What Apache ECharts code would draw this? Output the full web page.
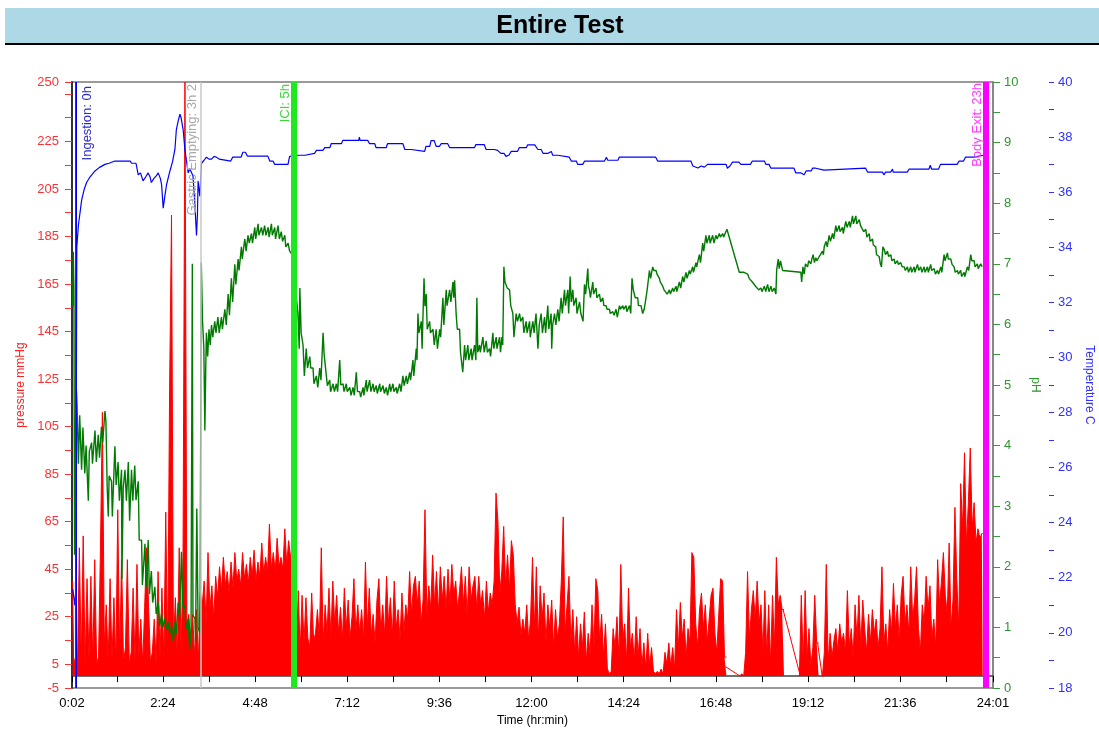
<!DOCTYPE html>
<html>
<head>
<meta charset="utf-8">
<script src="https://cdn.jsdelivr.net/npm/echarts@6/dist/echarts.min.js"></script>
<style>
html,body{margin:0;padding:0;background:#fff;}
#chart{width:1099px;height:733px;}
</style>
</head>
<body>
<div id="chart"></div>
<script>
// ---------------- DATA ----------------
const chartTitle = 'Entire Test';
// x axis (minutes since start)
const xMin = 2, xMax = 1441;
const xTickMinutes = [2,72,144,216,288,360,432,504,576,648,720,792,864,936,1008,1080,1152,1224,1296,1368,1441];
const xLabelMinutes = [2,144,288,432,576,720,864,1008,1152,1296,1441];
// pressure axis
const pressureTicks = [-5,5,15,25,35,45,55,65,75,85,95,105,115,125,135,145,155,165,175,185,195,205,215,225,235,245,250];
const pressureLabels = [-5,5,25,45,65,85,105,125,145,165,185,205,225,250];
// pH axis
const pHTicks = [0,0.5,1,1.5,2,2.5,3,3.5,4,4.5,5,5.5,6,6.5,7,7.5,8,8.5,9,9.5,10];
const pHLabels = [0,1,2,3,4,5,6,7,8,9,10];
// temperature axis
const tempTicks = [18,19,20,21,22,23,24,25,26,27,28,29,30,31,32,33,34,35,36,37,38,39,40];
const tempLabels = [18,20,22,24,26,28,30,32,34,36,38,40];

// event markers
const markerNames = ['', 'Ingestion: 0h', 'Gastric Emptying: 3h 2', 'ICI: 5h', 'Body Exit: 23h'];
const markerMinutes = [6.7, 9.3, 203, 349, 1429];

// pressure (mmHg), one value every 3 minutes starting at minute 3 (null = no recording)
const pressureStartMin = 3, pressureStepMin = 3;
const pressureValues = [
40,5,8,4,54,6,59,5,41,7,42,6,49,5,8,54,111,12,30,6,
41,7,33,5,70,8,49,6,12,49,5,10,37,6,47,8,24,5,29,54,
31,6,10,24,5,44,8,37,6,69,9,121,194,12,33,7,54,10,52,250,
20,26,14,26,8,28,6,35,30,40,22,52,28,38,24,42,33,46,36,50,
38,44,35,48,37,52,40,45,38,52,41,47,39,50,42,53,40,48,42,56,
43,50,44,64,45,52,44,58,46,50,45,62,47,57,50,48,20,8,36,10,
34,14,33,16,12,35,15,18,28,16,54,14,30,18,37,16,40,22,34,18,
29,15,37,20,32,16,25,41,18,30,18,28,15,48,20,37,17,26,14,32,
41,18,30,17,42,22,33,16,40,20,28,15,35,18,30,24,44,26,38,42,
30,40,22,32,70,25,38,28,51,30,44,26,46,32,42,28,45,30,47,34,
40,28,36,46,30,42,25,46,32,38,42,28,42,30,36,24,40,27,35,30,
40,77,65,35,44,63,38,51,36,57,51,30,22,29,17,24,18,30,15,24,
50,20,46,15,38,24,35,14,30,20,32,12,28,16,22,40,67,18,30,42,
14,28,10,25,8,22,12,27,6,18,9,30,12,41,36,14,26,8,22,3,
1,2,20,12,25,8,47,15,22,6,37,12,18,6,25,8,20,4,14,3,
18,4,12,2,1,2,1,3,1,10,5,14,4,12,3,28,12,31,16,24,
8,20,14,52,50,22,12,28,35,20,30,14,24,34,37,18,10,26,41,40,
8,null,null,null,null,null,null,null,0,1,0,10,44,15,28,36,24,40,22,30,
10,36,8,30,5,34,12,50,30,34,28,null,null,null,null,null,null,null,null,0,
34,5,36,8,20,4,12,34,14,null,null,0,10,47,6,18,8,15,20,10,
22,14,18,10,36,12,20,8,30,16,34,12,32,20,10,26,14,28,18,24,
12,20,46,14,22,10,28,18,39,20,30,14,34,42,22,30,18,46,24,32,
46,20,10,30,22,42,28,38,16,24,12,49,30,40,52,34,26,56,20,32,
71,40,20,81,62,94,55,73,96,62,73,56,62,58,60
];
// straight connector lines drawn across the recording gaps [minute, mmHg]
const pressureGapSegments = [
  [[1023,4],[1046,0],[1047,0]],
  [[1113,28],[1140,0]],
  [[1167,14],[1174,0],[1176,0]]
];

// pH readings [minute, pH]
const pHData = [
[3,6.3],[4,7.2],[5,6.6],[6,2.2],[7.5,4.4],[9,4.9],[10,4.63],[12,3.7],[14,4.5],[17,3.6],[19,4.3],[22,3.54],[24,4.0],[27.5,3.09],[29,3.9],[32.6,4.05],[34,3.7],[37.9,4.25],[40,3.73],[43,4.18],[45,3.8],[48,4.31],[50,4.05],[53.5,4.57],[55,4.4],[57,3.3],[58.7,2.83],[60,3.5],[63.8,3.41],[65,2.83],[69,3.99],[71,3.35],[74,3.73],[76,3.09],[79.4,3.6],[80,1.8],[82,3.3],[84.8,3.6],[87,3.09],[90,3.73],[92,2.76],[95,3.6],[97,3.09],[100,3.67],[102,3.1],[105.5,3.41],[107,2.44],[110.7,2.44],[112,1.7],[116,2.38],[118,1.67],[121,2.44],[123,1.55],[126,1.93],[128,1.41],[131.5,1.67],[133.5,1.22],[136.7,1.41],[139,1.02],[142,1.22],[144,1.0],[147,1.15],[150,0.96],[152,1.09],[155,0.89],[157.5,1.02],[160,0.76],[163,1.09],[165,0.89],[168,1.41],[170,1.15],[173,2.25],[175,1.35],[178.4,1.35],[180,0.96],[183.5,1.15],[186,0.63],[188,1.0],[190,7.0],[191,1.2],[194,1.15],[195,0.76],[197,2.96],[199,1.0],[202,0.9],[204,7.02],[206,6.05],[208,5.6],[209.6,4.25],[211,5.3],[212,5.86],[214,5.47],[216,5.92],[218,5.66],[220,5.99],[222,5.79],[225,6.05],[227,5.86],[230,6.12],[232,5.86],[235.5,6.12],[237,5.92],[240.8,6.25],[243,5.99],[246,6.5],[248,6.15],[251,6.76],[253,6.37],[256.4,6.99],[258,6.66],[261.6,7.08],[263,6.89],[266.7,7.28],[268,7.08],[272,7.41],[274,7.21],[277,7.47],[279,7.34],[282.4,7.5],[284,7.34],[287.6,7.6],[289,7.41],[292.8,7.66],[294,7.47],[298,7.6],[300,7.47],[303,7.63],[305,7.47],[308.4,7.6],[310,7.44],[313.6,7.66],[315,7.47],[318.8,7.6],[320,7.41],[324,7.63],[326,7.41],[329,7.53],[331,7.37],[334.5,7.47],[336,7.28],[339.6,7.34],[342,7.21],[346,7.15],
[355,6.18],[357,5.6],[358,6.6],[360,5.86],[363,5.66],[365,5.15],[368,5.6],[370,5.28],[373.5,5.47],[375,5.28],[378.6,5.28],[380,5.02],[383.8,5.15],[386,4.96],[389,5.28],[391,5.08],[394.3,5.86],[396,5.5],[399.4,5.15],[401,4.99],[404.7,5.08],[406,4.89],[409.9,5.02],[412,4.89],[415,5.02],[417,4.89],[420.3,5.41],[422,5.0],[425.5,5.02],[427,4.89],[430.6,5.02],[432,4.89],[436,4.96],[438,4.83],[441,4.96],[443,4.83],[446.2,5.21],[448,4.89],[451.5,4.89],[453,4.8],[456.7,4.96],[458,4.83],[461.8,5.08],[463,4.89],[467,5.08],[469,4.89],[472.3,5.02],[474,4.89],[477.4,4.99],[479,4.86],[482.8,5.02],[484,4.89],[488,4.99],[490,4.86],[493,4.96],[495,4.83],[498.4,5.02],[500,4.89],[503.5,5.02],[505,4.89],[508.7,4.96],[510,4.86],[514,5.02],[516,4.89],[519,5.15],[521,4.99],[524.3,5.15],[526,5.02],[529.6,5.21],[531,5.08],[534.7,5.41],[536,5.15],[539.9,5.6],[541,5.41],[542.5,6.18],[544,5.86],[547.7,6.05],[549,5.6],[552,6.76],[553.5,6.3],[555.5,6.5],[557,5.92],[560.8,6.05],[562,5.86],[566,5.92],[568,5.66],[571,5.92],[573,5.6],[576.4,5.92],[578,5.79],[581.5,6.44],[583,5.99],[586.7,6.57],[588,6.31],[592,6.57],[594,6.37],[597.2,6.7],[598.5,6.44],[599.8,6.73],[602.3,6.15],[604,5.92],[607.6,5.92],[609,5.54],[611,5.54],[612.5,5.21],[615.4,5.66],[617,5.41],[620.5,5.66],[622,5.41],[625.7,5.6],[627,5.41],[631,5.66],[633,5.41],[634.6,6.44],[636,5.54],[638.8,5.66],[640,5.54],[644,5.79],[646,5.54],[649.2,5.73],[651,5.54],[654.4,5.6],[656,5.47],[659.6,5.86],[661,5.6],[664.8,5.79],[666,5.6],[670,5.79],[671.5,5.54],[673.7,5.79],[675,5.66],[676.8,6.95],[678.5,6.7],[680.4,6.7],[682,6.6],[685.7,6.57],[687.5,6.31],[690.8,6.18],[692.5,5.79],[696,6.18],[698,6.05],[701.3,6.18],[703,6.05],[706.4,6.12],[708,5.86],[711.6,6.05],[713,5.86],[716.9,6.05],[718,5.79],[722,6.05],[724,5.86],
[727,6.18],[730,5.6],[732,5.99],[735,6.18],[737,5.86],[740.3,6.12],[742,5.86],[745.4,6.31],[747,5.92],[750.6,6.18],[751.5,5.6],[753,5.99],[755.9,6.18],[758,5.99],[761,6.25],[763,6.05],[766.2,6.44],[768,6.18],[771.5,6.57],[773,6.31],[776.6,6.57],[778,6.18],[780.3,6.79],[782,6.37],[784.5,6.57],[786,6.31],[789.6,6.44],[791,6.18],[795,6.37],[797,6.18],[799,6.15],[800.5,6.05],[802.7,6.66],[804.5,6.5],[807.9,6.92],[809,6.63],[810.5,6.57],[812,6.44],[815.7,6.7],[817,6.5],[820.8,6.6],[822,6.44],[826.1,6.5],[828,6.37],[831.3,6.44],[833,6.31],[836.4,6.31],[838,6.25],[841.7,6.25],[843,6.18],[846.9,6.21],[849,6.15],[852,6.25],[854,6.12],[857.4,6.31],[859,6.25],[862.5,6.31],[864,6.25],[867.7,6.31],[869,6.21],[873,6.31],[875,6.18],[877,6.76],[879,6.57],[880.7,6.57],[882,6.44],[885.9,6.44],[887,6.31],[891,6.31],[893.7,6.18],[896,6.25],[898.9,6.44],[901,6.6],[904.2,6.89],[906,6.76],[909.3,6.95],[911,6.89],[914.5,6.89],[916,6.83],[919.8,6.76],[921,6.7],[925,6.63],[927,6.57],[930,6.57],[932,6.5],[935.4,6.57],[937,6.5],[940.5,6.6],[942,6.54],[945.7,6.63],[947,6.54],[951,6.7],[953,6.6],[956.1,6.79],[958,6.7],[961.3,6.86],[963,6.76],[966.6,6.89],[968,6.83],[971.8,6.95],[973,6.86],[976.9,7.02],[978,6.95],[982.2,7.15],[984,7.02],[987.4,7.34],[989,7.21],[992.5,7.47],[994,7.34],[997.8,7.47],[999,7.34],[1003,7.47],[1005,7.34],[1008,7.47],[1010,7.41],[1013.4,7.5],[1015,7.44],[1018.6,7.5],[1020,7.44],[1025.3,7.57],[1044.6,6.86],[1047,6.83],[1052,6.86],[1057.6,6.83],[1060,6.76],[1062.7,6.79],[1065,6.7],[1068,6.73],[1070,6.63],[1073,6.66],[1075,6.57],[1078.4,6.6],[1080,6.54],
[1083.7,6.63],[1086,6.54],[1088.8,6.66],[1091,6.54],[1094,6.63],[1096,6.54],[1099.2,6.6],[1101.8,6.5],[1103,6.9],[1105.5,7.08],[1107,6.92],[1109,7.05],[1111,6.95],[1112.2,6.89],[1140.8,6.86],[1142,6.7],[1144,6.95],[1146,6.83],[1148,7.0],[1151.3,6.95],[1153,7.05],[1156.4,7.0],[1158,7.08],[1160,7.15],[1162,7.02],[1164.2,7.1],[1166,7.05],[1169.5,7.12],[1172,7.1],[1174.6,7.21],[1176,7.15],[1177.3,7.28],[1180,7.37],[1182,7.28],[1185,7.47],[1187,7.37],[1190.3,7.5],[1192,7.41],[1195.5,7.63],[1197,7.53],[1200.6,7.63],[1202,7.53],[1205.9,7.6],[1207,7.5],[1211,7.7],[1213,7.6],[1216.4,7.7],[1218,7.6],[1221.5,7.79],[1223,7.66],[1226.7,7.79],[1228,7.66],[1232,7.73],[1234,7.63],[1237.1,7.66],[1239,7.53],[1242.2,7.57],[1244,7.44],[1247.6,7.5],[1249,7.37],[1252.7,7.41],[1254,7.31],[1257.8,7.28],[1259,7.15],[1263.2,7.12],[1265,7.0],[1266.7,6.95],[1269,7.28],[1271,7.24],[1273,7.15],[1276,7.21],[1278,7.12],[1281.3,7.15],[1283,7.05],[1286.5,7.08],[1288,7.0],[1291.7,7.05],[1293,6.99],[1296.9,7.02],[1299,6.95],[1302.2,6.95],[1304,6.89],[1307.3,6.95],[1309,6.86],[1312.5,6.95],[1314,6.86],[1317.8,6.95],[1319,6.86],[1323,6.99],[1325,6.89],[1328,6.95],[1330,6.86],[1333.4,6.95],[1335,6.86],[1338.6,6.95],[1340,6.86],[1343.7,6.99],[1345,6.89],[1349,6.92],[1351,6.83],[1354.2,6.89],[1356,6.83],[1359.4,6.95],[1361,6.86],[1364.6,7.15],[1366,7.05],[1369.8,7.18],[1371,7.08],[1375,7.08],[1377,6.99],[1380.2,6.95],[1382,6.86],[1385.4,6.89],[1387,6.83],[1390.5,6.89],[1392,6.79],[1395.8,6.86],[1397,6.79],[1401,6.95],[1403,6.89],[1406.2,7.15],[1408,7.05],[1411.5,7.05],[1413,6.95],[1416.6,7.0],[1418,6.92],[1421.8,7.0],[1424,6.95]
];

// temperature readings [minute, deg C]
const tempData = [
[3,21.6],[5,21.3],[6.5,21.0],[8,21.5],[9,30.3],[9.5,34.0],[12,34.8],[17,35.7],[21,36.1],[24.8,36.35],[30,36.55],[37.9,36.77],[45,36.9],[53.5,37.01],[60,37.05],[69,37.13],[93,37.13],[95,37.05],[102,37.05],[105.5,36.63],[109,36.7],[113,36.41],[117,36.55],[121,36.7],[124,36.55],[126,36.35],[130,36.5],[134,36.6],[136.7,36.7],[140,36.5],[142,36.27],[144.5,35.42],[147,35.85],[149.7,36.27],[155,36.77],[159,37.1],[162.8,37.55],[165,38.26],[168,38.6],[170.6,38.83],[172.5,38.7],[175.7,38.26],[178.4,37.55],[183.5,36.7],[186,36.85],[188.7,36.91],[191,36.6],[194,35.56],[196.5,34.43],[198,35.2],[199,36.41],[201.8,35.85],[204.3,37.05],[208,37.15],[212,37.27],[216,37.2],[220,37.2],[224,37.3],[227.7,37.27],[232,37.2],[235,37.13],[250,37.13],[253,37.27],[266,37.27],[269,37.45],[273,37.45],[276,37.31],[308,37.31],[311,37.13],[316,37.13],[318.7,37.01],[339.5,37.01],[342,37.3],
[355,37.34],[366,37.34],[368,37.41],[381,37.41],[384,37.52],[394,37.52],[397,37.62],[405,37.62],[407,37.76],[423,37.76],[425,37.88],[450,37.88],[451,38.0],[452,37.88],[464,37.88],[467,37.76],[475,37.76],[477,37.62],[493,37.62],[495,37.76],[519,37.76],[522,37.55],[532,37.55],[535,37.48],[553,37.48],[555,37.66],[561,37.66],[563,37.87],[568,37.87],[571,37.66],[576,37.66],[579,37.76],[589,37.76],[592,37.62],[631,37.62],[633,37.73],[646,37.73],[649,37.55],[662,37.55],[667,37.52],[672,37.41],[677,37.41],[680,37.3],[685,37.35],[688,37.48],[698,37.48],[701,37.62],[712,37.62],
[714,37.72],[725,37.72],[730,37.55],[735,37.55],[738,37.41],[746,37.41],[748,37.48],[751,37.48],[753,37.34],[761,37.34],[764,37.27],[779,37.27],[782,37.13],[790,37.13],[792,37.01],[800,37.01],[803,37.13],[834,37.13],[837,37.27],[839,37.16],[855,37.16],[857,37.27],[914,37.27],[917,37.13],[969,37.13],[972,36.95],[980,36.88],[985,36.95],[990,36.91],[995,37.01],[1024,37.01],[1026,36.87],[1030,36.95],[1034,37.09],[1044,37.09],[1047,37.01],[1062,37.01],[1065,37.13],[1084,37.13],
[1086,37.01],[1091,37.01],[1094,36.87],[1130,36.87],[1133,36.7],[1141,36.7],[1143,36.63],[1146,36.63],[1149,36.77],[1157,36.77],[1159,36.87],[1164,36.87],[1167,36.8],[1177,36.8],[1180,36.87],[1242,36.87],[1245,36.73],[1268,36.73],[1271,36.63],[1273,36.73],[1281,36.73],[1284,36.84],[1285,36.73],[1307,36.73],[1310,36.84],[1341,36.84],[1343,36.98],[1345,36.84],[1356,36.84],[1359,37.01],[1385,37.01],[1388,37.13],[1395,37.13],[1398,37.27],[1411,37.27],[1414,37.34],[1426,37.34]
];

// ---------------- CHART ----------------
const FONT = 'Liberation Sans, Arial, sans-serif';
const chart = echarts.init(document.getElementById('chart'), null, {renderer: 'canvas'});

function fmtTime(v) {
  const h = Math.floor(v / 60);
  const m = Math.round(v - h * 60);
  return h + ':' + (m < 10 ? '0' : '') + m;
}

const pressureData = pressureValues.map((v, i) => [pressureStartMin + i * pressureStepMin, v]);

// marker styles (kept out of data)
const markerStyles = [
  {color: '#006400', width: 1, labelColor: '#006400', pos: 'insideEndBottom', dist: 3},
  {color: '#0000ff', width: 1, labelColor: '#2a2ad6', pos: 'insideEndBottom', dist: 4},
  {color: '#c8c8c8', width: 1.5, labelColor: '#a9a9a9', pos: 'insideEndTop', dist: 2},
  {color: '#1ee81e', width: 6, labelColor: '#3ad83a', pos: 'insideEndTop', dist: 2},
  {color: '#ff00ff', width: 6, labelColor: '#ff3cff', pos: 'insideEndTop', dist: 1}
];
const markLineData = markerMinutes.map((m, i) => ({
  xAxis: m,
  lineStyle: {color: markerStyles[i].color, width: markerStyles[i].width, type: 'solid'},
  label: {
    show: markerNames[i] !== '',
    formatter: markerNames[i],
    position: markerStyles[i].pos,
    color: markerStyles[i].labelColor,
    fontFamily: FONT,
    fontSize: 13,
    distance: markerStyles[i].dist
  }
}));

const gapSeries = pressureGapSegments.map(seg => ({
  type: 'line', xAxisIndex: 0, yAxisIndex: 0, data: seg,
  showSymbol: false, symbol: 'none', z: 2, silent: true,
  lineStyle: {color: '#ff0000', width: 1}
}));

const option = {
  animation: false,
  backgroundColor: '#ffffff',
  textStyle: {fontFamily: FONT},
  graphic: [
    {type: 'rect', shape: {x: 5, y: 8, width: 1094, height: 35}, style: {fill: '#ADD8E6'}, z: 0},
    {type: 'line', shape: {x1: 5, y1: 44, x2: 1099, y2: 44}, style: {stroke: '#000', lineWidth: 2}, z: 1},
    {type: 'text', x: 560, y: 26, style: {text: chartTitle, font: 'bold 25px ' + FONT, fill: '#000', align: 'center', verticalAlign: 'middle'}, z: 2}
  ],
  grid: {left: 72, right: 106, top: 82, bottom: 45, show: true, borderColor: '#7a7a7a', borderWidth: 1.5, backgroundColor: '#fff', outerBoundsMode: 'none', containLabel: false},
  xAxis: {
    type: 'value', min: xMin, max: xMax,
    name: 'Time (hr:min)', nameLocation: 'middle', nameGap: 27,
    nameTextStyle: {color: '#000', fontSize: 12, fontFamily: FONT},
    axisLine: {show: true, lineStyle: {color: '#404040', width: 1.5}},
    axisTick: {show: true, customValues: xTickMinutes, length: 6, lineStyle: {color: '#000'}},
    axisLabel: {customValues: xLabelMinutes, formatter: fmtTime, color: '#000', fontSize: 13, margin: 9, hideOverlap: false, fontFamily: FONT},
    splitLine: {show: false}
  },
  yAxis: [
    {
      type: 'value', position: 'left', min: -5, max: 250,
      name: 'pressure mmHg', nameLocation: 'middle', nameRotate: 90, nameGap: 45,
      nameTextStyle: {color: '#ff2020', fontSize: 12, fontFamily: FONT},
      axisLine: {show: true, lineStyle: {color: '#333', width: 2}},
      axisTick: {show: true, customValues: pressureTicks, length: 7, lineStyle: {color: '#ff3030'}},
      axisLabel: {customValues: pressureLabels, color: '#ff3030', fontSize: 13, margin: 13, fontFamily: FONT},
      splitLine: {show: false}
    },
    {
      type: 'value', position: 'right', min: 0, max: 10,
      name: 'pH', nameLocation: 'middle', nameRotate: -90, nameGap: 33,
      nameTextStyle: {color: '#2f962f', fontSize: 12, fontFamily: FONT},
      axisLine: {show: true, lineStyle: {color: '#808080', width: 1.5}},
      axisTick: {show: true, customValues: pHTicks, length: 7, lineStyle: {color: '#3a9a3a'}},
      axisLabel: {customValues: pHLabels, color: '#2f962f', fontSize: 13, margin: 11, fontFamily: FONT},
      splitLine: {show: false}
    },
    {
      type: 'value', position: 'right', offset: 56, min: 18, max: 40,
      name: 'Temperature C', nameLocation: 'middle', nameRotate: -90, nameGap: 34,
      nameTextStyle: {color: '#3030ff', fontSize: 12, fontFamily: FONT},
      axisLine: {show: false},
      axisTick: {show: true, customValues: tempTicks, length: 5, lineStyle: {color: '#3030ff'}},
      axisLabel: {customValues: tempLabels, color: '#3030ff', fontSize: 13, margin: 9, fontFamily: FONT},
      splitLine: {show: false}
    }
  ],
  series: [
    {
      name: 'pressure', type: 'line', xAxisIndex: 0, yAxisIndex: 0, data: pressureData,
      showSymbol: false, symbol: 'none', sampling: null, z: 2, step: 'middle', connectNulls: false,
      lineStyle: {color: '#ff0000', width: 1},
      areaStyle: {color: '#ff0000', opacity: 1}
    },
    ...gapSeries,
    {
      name: 'pH', type: 'line', xAxisIndex: 0, yAxisIndex: 1, data: pHData,
      showSymbol: false, symbol: 'none', z: 3,
      lineStyle: {color: '#007a00', width: 1.4}
    },
    {
      name: 'temperature', type: 'line', xAxisIndex: 0, yAxisIndex: 2, data: tempData,
      showSymbol: false, symbol: 'none', z: 4,
      lineStyle: {color: '#0000ff', width: 1.2}
    },
    {
      name: 'events', type: 'line', xAxisIndex: 0, yAxisIndex: 0, data: [], z: 6,
      markLine: {silent: true, animation: false, symbol: ['none', 'none'], data: markLineData}
    }
  ]
};
chart.setOption(option);
</script>
</body>
</html>
